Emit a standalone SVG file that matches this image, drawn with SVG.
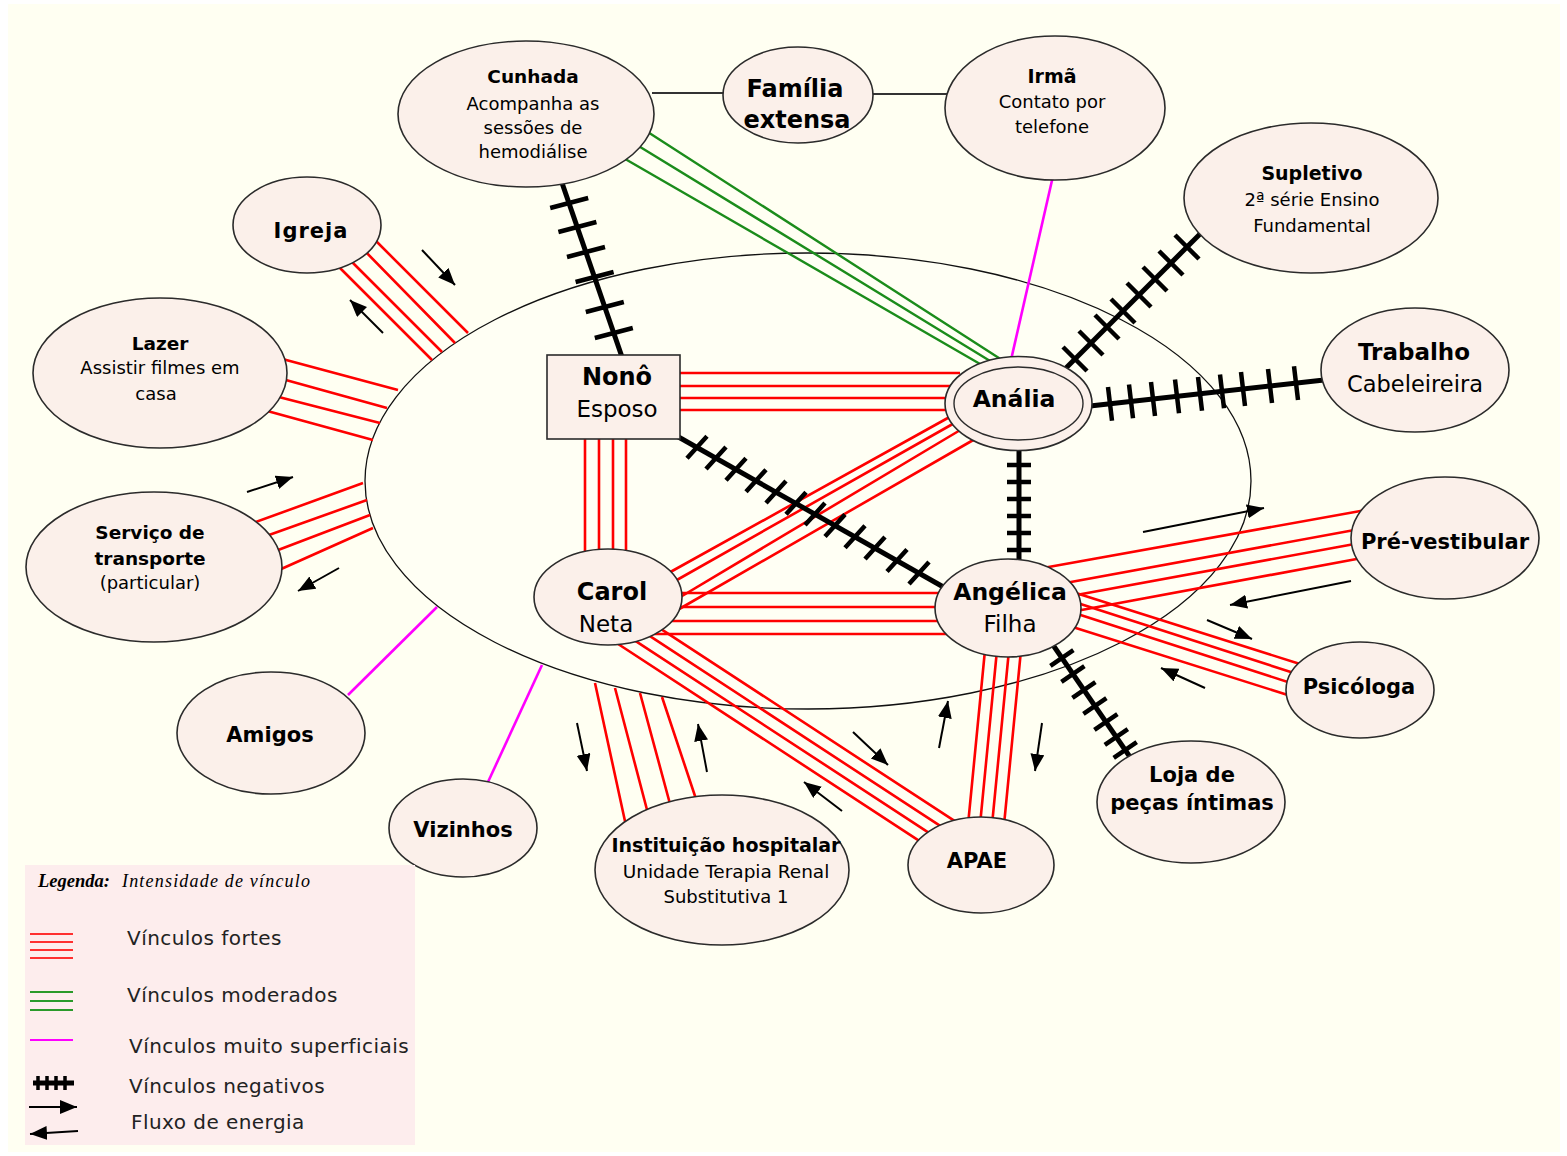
<svg xmlns="http://www.w3.org/2000/svg" width="1567" height="1156" viewBox="0 0 1567 1156">
  <style>
    .n { fill:#FBF0EA; stroke:#2b2b2b; stroke-width:1.6; }
    .t { font-family:"DejaVu Sans","Liberation Sans",sans-serif; fill:#000; text-anchor:middle; }
    .b { font-weight:bold; }
    .r { stroke:#FF0000; stroke-width:2.6; fill:none; }
    .g { stroke:#1B8C1B; stroke-width:2.4; fill:none; }
    .m { stroke:#FF00FF; stroke-width:2.6; fill:none; }
    .k { stroke:#000; stroke-width:5; fill:none; }
    .tk { stroke:#000; stroke-width:4.5; fill:none; }
    .a { stroke:#000; stroke-width:2; fill:none; marker-end:url(#ah); }
    .thin { stroke:#333; stroke-width:2; fill:none; }
    .lg { font-family:"DejaVu Sans","Liberation Sans",sans-serif; font-size:20px; fill:#222; letter-spacing:0.45px; }
  </style>
  <defs>
    <marker id="ah" markerUnits="userSpaceOnUse" markerWidth="18" markerHeight="16" viewBox="0 0 18 16" refX="17" refY="7" orient="auto">
      <path d="M0,0 L17,7 L0,14 Z" fill="#000"/>
    </marker>
  </defs>

  <!-- page -->
  <rect x="0" y="0" width="1567" height="1156" fill="#FFFFFF"/>
  <rect x="8" y="4" width="1552" height="1148" fill="#FFFFF2"/>

  <!-- household boundary -->
  <g id="household">
    <ellipse cx="808" cy="481" rx="443" ry="228" fill="#FFFFF4" stroke="#111" stroke-width="1.3"/>
  </g>

  <g id="connectors">
    <!-- extended family (plain lines) -->
    <line class="thin" x1="652" y1="93" x2="725" y2="93"/>
    <line class="thin" x1="870" y1="94" x2="948" y2="94"/>

    <!-- strong bonds -->
    <path class="r" d="M370,235 L468,333 M359,245 L455,343 M345,255 L442,352 M332,260 L432,360"/>
    <path class="r" d="M275,357 L398,390 M275,377 L387,408 M271,395 L380,423 M260,409 L373,440"/>
    <path class="r" d="M245,526 L363,483 M255,540 L367,500 M265,555 L370,515 M270,574 L373,528"/>
    <path class="r" d="M595,683 L628,835 M615,688 L651,825 M640,693 L673,815 M662,697 L699,808"/>
    <path class="r" d="M680,373 L960,373 M680,386 L960,386 M680,398 L960,398 M680,410 L960,410"/>
    <path class="r" d="M585,439 L585,560 M599,439 L599,560 M613,439 L613,560 M626,439 L626,560"/>
    <path class="r" d="M650,593 L960,593 M650,607 L960,607 M650,621 L960,621 M650,634 L960,634"/>
    <path class="r" d="M665,575 L955,414 M668,585 L958,421 M672,602 L962,429 M674,612 L975,439"/>
    <path class="r" d="M612,640 L925,844.6 M630,637.4 L937,838.1 M645,632.9 L949,831.7 M655,625.1 L961,825.2"/>
    <path class="r" d="M985,650 L968,825 M997,650 L980,825 M1009,650 L992,825 M1021,650 L1004,825"/>
    <path class="r" d="M1043,568 L1366,510 M1060,584 L1360,529 M1060,598 L1360,543 M1060,614 L1362,558"/>
    <path class="r" d="M1060,588 L1300,664 M1062,598 L1297,674 M1062,609 L1294,684 M1060,623 L1291,696"/>

    <!-- moderate bond -->
    <path class="g" d="M640,127 L1002,360 M632,142 L995,364 M620,156 L987,368"/>

    <!-- very superficial bonds -->
    <line class="m" x1="1053" y1="176" x2="1011" y2="360" stroke-width="3.6"/>
    <line class="m" x1="348" y1="695" x2="437" y2="607"/>
    <line class="m" x1="488" y1="782" x2="542" y2="665"/>

    <!-- negative bonds -->
    <g id="neg-cunhada-nono">
      <line class="k" x1="561" y1="180" x2="622" y2="357"/>
      <path class="tk" d="M550.2,208 L588.2,198 M558.4,232 L596.4,222 M567,257 L605,247 M575.6,282 L613.6,272 M585.8,312 L623.8,302 M594.8,338 L632.8,328"/>
    </g>
    <g id="neg-nono-angelica">
      <line class="k" x1="675" y1="435" x2="950" y2="590.7"/>
      <path class="tk" d="M687,458.2 L707,436.2 M706,469 L726,447 M726,480.3 L746,458.3 M746,491.7 L766,469.7 M766,503 L786,481 M786,514.3 L806,492.3 M805,525.1 L825,503.1 M825,536.5 L845,514.5 M845,547.8 L865,525.8 M865,559.1 L885,537.1 M887,571.6 L907,549.6 M909,584.1 L929,562.1"/>
    </g>
    <g id="neg-analia-angelica">
      <line class="k" x1="1019" y1="448" x2="1019" y2="562"/>
      <path class="tk" d="M1007,465 L1031,465 M1007,482 L1031,482 M1007,499 L1031,499 M1007,516 L1031,516 M1007,533 L1031,533 M1007,550 L1031,550"/>
    </g>
    <g id="neg-analia-supletivo">
      <line class="k" x1="1062" y1="372" x2="1202" y2="232"/>
      <path class="tk" d="M1063,347 L1087,371 M1079,331 L1103,355 M1095,315 L1119,339 M1111,299 L1135,323 M1127,283 L1151,307 M1143,267 L1167,291 M1159,251 L1183,275 M1175,235 L1199,259"/>
    </g>
    <g id="neg-analia-trabalho">
      <line class="k" x1="1090" y1="406" x2="1324" y2="380"/>
      <path class="tk" d="M1108,386.9 L1112,420.7 M1129,384.5 L1133,418.3 M1151,382.1 L1155,415.9 M1175,379.4 L1179,413.2 M1198,376.9 L1202,410.7 M1220,374.4 L1224,408.2 M1241,372.1 L1245,405.9 M1268,369.1 L1272,402.9 M1294,366.2 L1298,400"/>
    </g>
    <g id="neg-angelica-loja">
      <line class="k" x1="1053" y1="645" x2="1130" y2="757"/>
      <path class="tk" d="M1050.4,665.9 L1073.4,650.1 M1061.4,681.9 L1084.4,666.1 M1072.4,697.9 L1095.4,682.1 M1083.4,713.9 L1106.4,698.1 M1094.4,729.9 L1117.4,714.1 M1104.8,744.9 L1127.8,729.1 M1113.7,757.9 L1136.7,742.1"/>
    </g>

    <!-- energy flow -->
    <line class="a" x1="422" y1="250" x2="455" y2="285"/>
    <line class="a" x1="383" y1="333" x2="350" y2="300"/>
    <line class="a" x1="247" y1="492" x2="293" y2="477"/>
    <line class="a" x1="339" y1="568" x2="298" y2="591"/>
    <line class="a" x1="577" y1="723" x2="587" y2="771"/>
    <line class="a" x1="707" y1="772" x2="698" y2="724"/>
    <line class="a" x1="853" y1="732" x2="888" y2="765"/>
    <line class="a" x1="842" y1="811" x2="804" y2="782"/>
    <line class="a" x1="939" y1="748" x2="948" y2="701"/>
    <line class="a" x1="1042" y1="723" x2="1035" y2="771"/>
    <line class="a" x1="1143" y1="532" x2="1264" y2="508"/>
    <line class="a" x1="1351" y1="581" x2="1230" y2="605"/>
    <line class="a" x1="1207" y1="620" x2="1252" y2="639"/>
    <line class="a" x1="1205" y1="688" x2="1161" y2="668"/>
  </g>

  <!-- nodes -->
  <g id="cunhada">
    <ellipse class="n" cx="526" cy="114" rx="128" ry="73"/>
    <text class="t b" x="533" y="83" font-size="18.5">Cunhada</text>
    <text class="t" x="533" y="110" font-size="18">Acompanha as</text>
    <text class="t" x="533" y="134" font-size="18">sessões de</text>
    <text class="t" x="533" y="158" font-size="18">hemodiálise</text>
  </g>
  <g id="familia-extensa">
    <ellipse class="n" cx="798" cy="95" rx="75" ry="48"/>
    <text class="t b" x="795" y="97" font-size="24">Família</text>
    <text class="t b" x="797" y="128" font-size="24">extensa</text>
  </g>
  <g id="irma">
    <ellipse class="n" cx="1055" cy="108" rx="110" ry="72"/>
    <text class="t b" x="1052" y="83" font-size="19">Irmã</text>
    <text class="t" x="1052" y="108" font-size="18">Contato por</text>
    <text class="t" x="1052" y="133" font-size="18">telefone</text>
  </g>
  <g id="supletivo">
    <ellipse class="n" cx="1311" cy="198" rx="127" ry="75"/>
    <text class="t b" x="1312" y="180" font-size="19">Supletivo</text>
    <text class="t" x="1312" y="206" font-size="18">2ª série Ensino</text>
    <text class="t" x="1312" y="232" font-size="18">Fundamental</text>
  </g>
  <g id="trabalho">
    <ellipse class="n" cx="1415" cy="370" rx="94" ry="62"/>
    <text class="t b" x="1414" y="360" font-size="23">Trabalho</text>
    <text class="t" x="1415" y="392" font-size="22.5">Cabeleireira</text>
  </g>
  <g id="igreja">
    <ellipse class="n" cx="307" cy="225" rx="74" ry="48"/>
    <text class="t b" x="311" y="238" font-size="21" letter-spacing="1">Igreja</text>
  </g>
  <g id="lazer">
    <ellipse class="n" cx="160" cy="373" rx="127" ry="75"/>
    <text class="t b" x="160" y="350" font-size="18.5">Lazer</text>
    <text class="t" x="160" y="374" font-size="18">Assistir filmes em</text>
    <text class="t" x="156" y="400" font-size="18">casa</text>
  </g>
  <g id="servico-transporte">
    <ellipse class="n" cx="154" cy="567" rx="128" ry="75"/>
    <text class="t b" x="150" y="539" font-size="18.5">Serviço de</text>
    <text class="t b" x="150" y="565" font-size="18.5">transporte</text>
    <text class="t" x="150" y="589" font-size="18">(particular)</text>
  </g>
  <g id="amigos">
    <ellipse class="n" cx="271" cy="733" rx="94" ry="61"/>
    <text class="t b" x="270" y="742" font-size="21">Amigos</text>
  </g>
  <g id="vizinhos">
    <ellipse class="n" cx="463" cy="828" rx="74" ry="49"/>
    <text class="t b" x="463" y="837" font-size="21">Vizinhos</text>
  </g>
  <g id="instituicao-hospitalar">
    <ellipse class="n" cx="722" cy="870" rx="127" ry="75"/>
    <text class="t b" x="726" y="852" font-size="19">Instituição hospitalar</text>
    <text class="t" x="726" y="878" font-size="18.5">Unidade Terapia Renal</text>
    <text class="t" x="726" y="903" font-size="18">Substitutiva 1</text>
  </g>
  <g id="apae">
    <ellipse class="n" cx="981" cy="865" rx="73" ry="48"/>
    <text class="t b" x="977" y="868" font-size="21">APAE</text>
  </g>
  <g id="loja">
    <ellipse class="n" cx="1191" cy="802" rx="94" ry="61"/>
    <text class="t b" x="1192" y="782" font-size="21">Loja de</text>
    <text class="t b" x="1192" y="810" font-size="21">peças íntimas</text>
  </g>
  <g id="psicologa">
    <ellipse class="n" cx="1360" cy="690" rx="74" ry="48"/>
    <text class="t b" x="1359" y="694" font-size="21">Psicóloga</text>
  </g>
  <g id="pre-vestibular">
    <ellipse class="n" cx="1445" cy="538" rx="94" ry="61"/>
    <text class="t b" x="1445" y="549" font-size="21">Pré-vestibular</text>
  </g>
  <g id="nono">
    <rect class="n" x="547" y="355" width="133" height="84"/>
    <text class="t b" x="617" y="385" font-size="24">Nonô</text>
    <text class="t" x="617" y="417" font-size="23">Esposo</text>
  </g>
  <g id="analia">
    <ellipse class="n" cx="1018.5" cy="403.5" rx="73.5" ry="47"/>
    <ellipse cx="1018.5" cy="403.5" rx="64.5" ry="36.5" fill="none" stroke="#2b2b2b" stroke-width="1.4"/>
    <text class="t b" x="1014" y="407" font-size="23.5">Anália</text>
  </g>
  <g id="carol">
    <ellipse class="n" cx="608" cy="597" rx="74" ry="48"/>
    <text class="t b" x="612" y="600" font-size="24">Carol</text>
    <text class="t" x="606" y="632" font-size="23">Neta</text>
  </g>
  <g id="angelica">
    <ellipse class="n" cx="1008" cy="608" rx="73" ry="49"/>
    <text class="t b" x="1010" y="600" font-size="23.5">Angélica</text>
    <text class="t" x="1010" y="632" font-size="23">Filha</text>
  </g>

  <!-- key -->
  <g id="legenda">
    <rect x="25" y="865" width="390" height="280" fill="#FDEDED"/>
    <text x="38" y="887" font-family="'Liberation Serif',serif" font-size="18" font-style="italic" font-weight="bold" textLength="72" lengthAdjust="spacingAndGlyphs">Legenda:</text>
    <text x="122" y="887" font-family="'Liberation Serif',serif" font-size="18" font-style="italic" textLength="188" lengthAdjust="spacing">Intensidade de vínculo</text>
    <path d="M30,934 L73,934 M30,942 L73,942 M30,950 L73,950 M30,958 L73,958" stroke="#FF3030" stroke-width="2" fill="none"/>
    <path d="M30,992 L73,992 M30,1001 L73,1001 M30,1010 L73,1010" stroke="#2A9A2A" stroke-width="2" fill="none"/>
    <line x1="30" y1="1040" x2="73" y2="1040" stroke="#FF00FF" stroke-width="2"/>
    <line x1="33" y1="1083" x2="74" y2="1083" stroke="#000" stroke-width="5"/>
    <path d="M38,1076 L38,1090 M47,1076 L47,1090 M56,1076 L56,1090 M65,1076 L65,1090" stroke="#000" stroke-width="3.5" fill="none"/>
    <line class="a" x1="29" y1="1107" x2="77" y2="1107"/>
    <line class="a" x1="78" y1="1131" x2="30" y2="1134"/>
    <text class="lg" x="127" y="945">Vínculos fortes</text>
    <text class="lg" x="127" y="1002">Vínculos moderados</text>
    <text class="lg" x="129" y="1053">Vínculos muito superficiais</text>
    <text class="lg" x="129" y="1093">Vínculos negativos</text>
    <text class="lg" x="131" y="1129">Fluxo de energia</text>
  </g>
</svg>
